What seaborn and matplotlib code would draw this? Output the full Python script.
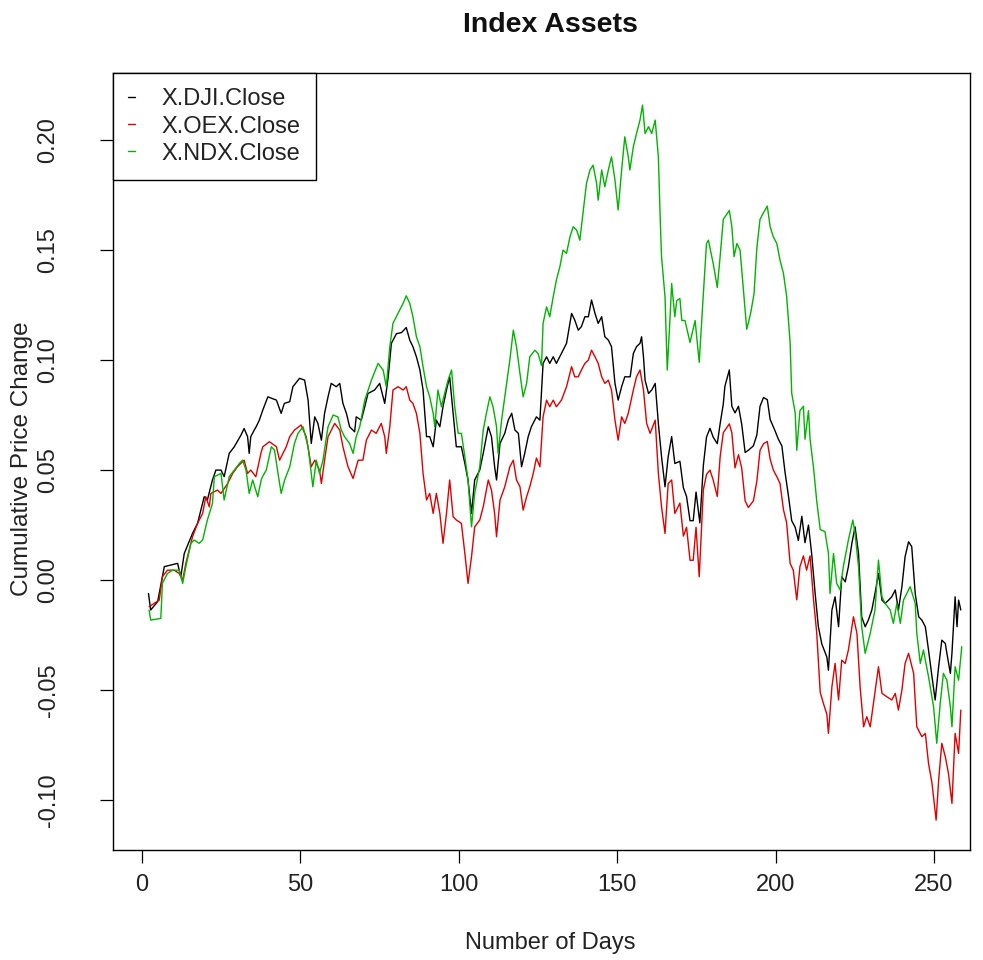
import matplotlib
matplotlib.use("Agg")
import matplotlib.pyplot as plt
import seaborn as sns
import pandas as pd
from matplotlib.lines import Line2D

sns.set_theme(style="white")
plt.rcParams['font.family'] = ['Liberation Sans', 'DejaVu Sans']

series_names = ["X.DJI.Close", "X.OEX.Close", "X.NDX.Close"]
series_colors = ["#000000", "#E00000", "#00B400"]

dji_days = [2.0, 2.7, 4.9, 6.4, 7.0, 11.2, 12.2, 13.3, 15.9, 17.5, 19.6, 20.6, 22.2, 23.3, 24.9, 25.9,
            27.5, 29.1, 31.2, 32.2, 33.3, 33.8, 34.3, 35.4, 36.0, 37.0, 38.1, 39.7, 42.4, 43.9, 44.9,
            46.6, 47.6, 49.7, 51.3, 52.4, 53.4, 54.5, 55.5, 56.6, 57.6, 58.7, 59.7, 61.3, 62.4, 63.4,
            64.5, 65.5, 67.1, 67.6, 69.2, 70.3, 71.3, 73.4, 75.0, 76.6, 77.7, 78.7, 80.3, 81.9, 83.4,
            84.5, 85.5, 86.6, 87.7, 88.7, 89.8, 90.8, 91.9, 92.9, 94.0, 95.0, 96.1, 97.1, 98.2, 99.2,
            100.8, 101.9, 102.9, 104.0, 105.0, 106.6, 107.7, 109.3, 110.3, 111.3, 111.9, 113.0, 114.5,
            115.6, 116.7, 117.7, 118.8, 119.8, 120.8, 121.9, 122.9, 124.5, 125.6, 126.6, 127.7, 128.7,
            129.8, 130.8, 132.4, 134.0, 135.6, 136.6, 137.7, 138.7, 139.8, 140.9, 141.9, 143.0, 144.0,
            145.1, 146.1, 147.2, 148.2, 149.3, 150.3, 151.4, 152.4, 154.1, 155.1, 156.1, 157.2, 157.7,
            158.3, 158.8, 159.9, 160.9, 162.0, 163.0, 164.0, 165.1, 166.1, 167.2, 168.2, 169.8, 170.9,
            171.9, 173.0, 174.0, 174.9, 176.1, 177.2, 178.2, 179.3, 180.3, 181.6, 182.5, 183.5, 184.0,
            185.4, 186.2, 187.2, 188.3, 189.3, 190.4, 191.4, 193.0, 194.1, 195.1, 196.2, 197.4, 198.3,
            199.8, 200.9, 202.0, 203.0, 204.1, 205.1, 206.2, 207.2, 208.3, 209.3, 210.4, 211.4, 212.5,
            213.5, 214.6, 216.2, 216.7, 217.8, 218.8, 219.9, 220.9, 222.0, 223.0, 224.1, 225.1, 226.2,
            227.2, 228.3, 229.3, 230.4, 231.4, 232.5, 233.6, 234.6, 235.7, 236.7, 237.8, 238.8, 239.9,
            240.9, 242.0, 243.0, 244.1, 245.2, 246.2, 247.3, 248.3, 249.4, 250.4, 251.5, 252.5, 253.6,
            254.1, 255.2, 255.7, 256.7, 257.3, 257.8, 258.5]
dji_vals = [-0.0061, -0.0136, -0.0098, 0.0015, 0.0061, 0.0076, 0.0015, 0.0121, 0.0212, 0.0258, 0.0379,
            0.0364, 0.0455, 0.0500, 0.0500, 0.0470, 0.0576, 0.0606, 0.0659, 0.0689, 0.0652, 0.0576,
            0.0652, 0.0682, 0.0697, 0.0727, 0.0773, 0.0833, 0.0818, 0.0758, 0.0803, 0.0811, 0.0879,
            0.0917, 0.0909, 0.0818, 0.0621, 0.0742, 0.0712, 0.0636, 0.0758, 0.0833, 0.0894, 0.0879,
            0.0894, 0.0803, 0.0758, 0.0697, 0.0674, 0.0742, 0.0727, 0.0788, 0.0848, 0.0864, 0.0894,
            0.0803, 0.0924, 0.1076, 0.1120, 0.1125, 0.1148, 0.1091, 0.1061, 0.1015, 0.0955, 0.0864,
            0.0652, 0.0652, 0.0606, 0.0727, 0.0697, 0.0788, 0.0864, 0.0924, 0.0758, 0.0606, 0.0606,
            0.0530, 0.0455, 0.0303, 0.0455, 0.0500, 0.0576, 0.0697, 0.0652, 0.0515, 0.0455, 0.0621,
            0.0667, 0.0727, 0.0758, 0.0682, 0.0667, 0.0515, 0.0576, 0.0652, 0.0697, 0.0742, 0.0727,
            0.0985, 0.1015, 0.0985, 0.1015, 0.0985, 0.1030, 0.1076, 0.1212, 0.1182, 0.1136, 0.1152,
            0.1197, 0.1197, 0.1273, 0.1212, 0.1167, 0.1197, 0.1106, 0.1091, 0.1061, 0.0894, 0.0818,
            0.0879, 0.0924, 0.0924, 0.1030, 0.1061, 0.1076, 0.1106, 0.1015, 0.0909, 0.0848, 0.0864,
            0.0894, 0.0712, 0.0561, 0.0424, 0.0561, 0.0652, 0.0530, 0.0540, 0.0420, 0.0380, 0.0270,
            0.0270, 0.0400, 0.0260, 0.0520, 0.0650, 0.0690, 0.0650, 0.0620, 0.0710, 0.0800, 0.0880,
            0.0955, 0.0790, 0.0760, 0.0790, 0.0710, 0.0580, 0.0590, 0.0610, 0.0660, 0.0790, 0.0830,
            0.0820, 0.0730, 0.0680, 0.0640, 0.0610, 0.0490, 0.0380, 0.0270, 0.0240, 0.0180, 0.0290,
            0.0170, 0.0250, 0.0120, -0.0060, -0.0210, -0.0290, -0.0350, -0.0410, -0.0136, -0.0076,
            -0.0212, 0.0015, -0.0008, 0.0061, 0.0167, 0.0242, 0.0121, -0.0167, -0.0212, -0.0182,
            -0.0136, -0.0061, 0.0030, -0.0091, -0.0106, -0.0091, -0.0076, -0.0045, -0.0136, -0.0030,
            0.0106, 0.0174, 0.0152, -0.0061, -0.0167, -0.0182, -0.0212, -0.0318, -0.0439, -0.0545,
            -0.0394, -0.0273, -0.0288, -0.0333, -0.0424, -0.0333, -0.0076, -0.0212, -0.0091, -0.0136]

oex_days = [2.2, 3.8, 5.4, 6.4, 8.0, 10.1, 11.7, 12.8, 13.8, 15.9, 17.5, 19.1, 20.1, 21.2, 21.7, 23.8,
            24.9, 27.0, 28.6, 30.1, 32.2, 33.3, 34.3, 35.9, 37.5, 38.1, 40.2, 42.4, 43.4, 45.5, 46.6,
            48.1, 50.2, 51.8, 53.4, 54.5, 56.0, 56.6, 57.6, 58.7, 60.8, 62.4, 63.4, 65.0, 66.6, 68.2,
            69.7, 70.8, 72.4, 73.9, 75.5, 76.6, 77.1, 78.2, 79.2, 80.8, 82.4, 83.4, 84.5, 85.5, 86.6,
            87.7, 88.7, 89.8, 90.8, 91.9, 92.9, 94.0, 95.0, 96.1, 97.1, 98.2, 99.2, 100.8, 101.9, 102.9,
            104.0, 105.0, 106.6, 107.7, 109.3, 110.3, 111.3, 111.9, 113.0, 114.5, 116.1, 117.2, 118.2,
            119.3, 120.3, 121.4, 122.4, 123.5, 124.5, 125.6, 126.6, 127.7, 128.7, 129.8, 130.8, 132.4,
            134.0, 135.6, 136.6, 137.7, 138.7, 139.8, 140.9, 141.9, 143.0, 144.0, 145.1, 146.1, 147.2,
            148.2, 149.3, 150.3, 151.4, 152.4, 153.5, 155.1, 156.1, 157.2, 158.3, 159.3, 160.4, 162.0,
            163.0, 164.0, 165.1, 166.1, 167.2, 168.2, 169.8, 170.9, 171.9, 173.0, 174.0, 174.9, 175.9,
            177.2, 178.2, 179.3, 180.3, 181.6, 182.5, 183.5, 185.4, 186.2, 187.2, 188.3, 189.3, 190.4,
            191.4, 193.0, 194.1, 195.1, 196.2, 197.4, 198.3, 199.3, 200.4, 201.4, 202.5, 203.5, 204.6,
            205.6, 206.7, 207.7, 208.8, 209.8, 210.9, 212.0, 213.0, 214.1, 215.1, 216.2, 216.7, 217.8,
            218.8, 219.9, 220.9, 222.0, 223.0, 224.6, 225.7, 226.7, 227.8, 228.8, 229.9, 230.9, 232.5,
            233.6, 235.1, 236.7, 237.8, 238.8, 239.9, 240.9, 242.0, 243.6, 244.6, 246.2, 247.3, 248.3,
            249.4, 250.7, 251.5, 252.5, 253.6, 254.6, 255.7, 256.7, 257.8, 258.5]
oex_vals = [-0.0121, -0.0106, -0.0091, 0.0015, 0.0045, 0.0045, 0.0030, 0.0000, 0.0076, 0.0197, 0.0258,
            0.0303, 0.0379, 0.0333, 0.0394, 0.0409, 0.0394, 0.0439, 0.0485, 0.0515, 0.0545, 0.0485,
            0.0500, 0.0470, 0.0576, 0.0606, 0.0629, 0.0606, 0.0545, 0.0606, 0.0652, 0.0682, 0.0705,
            0.0652, 0.0515, 0.0545, 0.0500, 0.0439, 0.0545, 0.0652, 0.0712, 0.0682, 0.0606, 0.0515,
            0.0462, 0.0545, 0.0545, 0.0636, 0.0682, 0.0667, 0.0712, 0.0652, 0.0576, 0.0697, 0.0864,
            0.0879, 0.0864, 0.0879, 0.0818, 0.0803, 0.0758, 0.0667, 0.0485, 0.0364, 0.0394, 0.0303,
            0.0394, 0.0303, 0.0167, 0.0303, 0.0455, 0.0288, 0.0273, 0.0258, 0.0121, -0.0015, 0.0106,
            0.0242, 0.0273, 0.0333, 0.0455, 0.0409, 0.0303, 0.0197, 0.0364, 0.0424, 0.0515, 0.0545,
            0.0455, 0.0424, 0.0318, 0.0379, 0.0424, 0.0485, 0.0555, 0.0515, 0.0742, 0.0818, 0.0788,
            0.0818, 0.0788, 0.0818, 0.0879, 0.0970, 0.0924, 0.0924, 0.0955, 0.0985, 0.1000, 0.1045,
            0.1015, 0.0985, 0.0924, 0.0894, 0.0909, 0.0864, 0.0727, 0.0636, 0.0742, 0.0712, 0.0758,
            0.0864, 0.0924, 0.0955, 0.0864, 0.0712, 0.0667, 0.0727, 0.0485, 0.0333, 0.0212, 0.0439,
            0.0455, 0.0303, 0.0350, 0.0200, 0.0240, 0.0090, 0.0090, 0.0240, 0.0015, 0.0410, 0.0480,
            0.0500, 0.0455, 0.0380, 0.0560, 0.0670, 0.0710, 0.0670, 0.0510, 0.0570, 0.0510, 0.0360,
            0.0330, 0.0360, 0.0450, 0.0590, 0.0620, 0.0630, 0.0550, 0.0500, 0.0470, 0.0440, 0.0320,
            0.0260, 0.0076, 0.0045, -0.0090, 0.0061, 0.0110, 0.0045, 0.0110, -0.0090, -0.0240, -0.0510,
            -0.0560, -0.0610, -0.0697, -0.0485, -0.0379, -0.0545, -0.0364, -0.0379, -0.0318, -0.0167,
            -0.0242, -0.0485, -0.0667, -0.0621, -0.0667, -0.0561, -0.0394, -0.0515, -0.0530, -0.0545,
            -0.0515, -0.0591, -0.0500, -0.0379, -0.0333, -0.0424, -0.0667, -0.0712, -0.0697, -0.0833,
            -0.0924, -0.1091, -0.0909, -0.0742, -0.0803, -0.0879, -0.1015, -0.0697, -0.0788, -0.0591]

ndx_days = [2.2, 2.7, 5.9, 6.4, 8.0, 9.6, 11.7, 12.8, 13.8, 15.4, 16.4, 18.0, 19.1, 20.6, 22.2, 22.8,
            24.9, 25.9, 27.5, 29.1, 30.7, 31.7, 32.8, 33.8, 34.9, 36.5, 37.6, 38.0, 39.2, 40.8, 41.8,
            42.9, 43.9, 45.0, 46.6, 48.1, 49.2, 50.8, 52.4, 53.9, 55.0, 56.0, 57.1, 58.7, 60.3, 61.8,
            62.9, 63.9, 65.5, 66.6, 67.6, 68.7, 70.3, 72.4, 74.5, 76.1, 77.1, 78.2, 79.2, 80.8, 82.4,
            83.4, 84.5, 85.5, 86.6, 87.7, 88.7, 89.8, 90.8, 91.9, 92.4, 93.4, 94.5, 95.5, 96.6, 97.7,
            98.7, 99.8, 100.8, 101.9, 102.9, 104.0, 105.0, 106.6, 107.7, 108.7, 109.8, 110.8, 111.9,
            112.4, 113.5, 114.5, 116.1, 117.2, 118.2, 119.3, 120.3, 121.4, 122.4, 124.0, 125.0, 126.1,
            126.6, 127.7, 128.7, 129.8, 130.8, 131.9, 132.9, 134.0, 135.1, 136.1, 137.2, 138.2, 139.3,
            140.3, 141.4, 142.4, 143.5, 144.0, 145.1, 146.1, 147.2, 148.2, 149.3, 150.3, 151.4, 152.4,
            153.5, 154.0, 155.1, 156.1, 157.2, 158.0, 158.8, 159.9, 160.9, 162.0, 163.0, 163.6, 164.0,
            165.1, 165.8, 166.6, 167.2, 168.2, 168.8, 169.8, 170.4, 171.4, 173.0, 174.6, 175.9, 177.2,
            178.2, 178.8, 180.3, 181.6, 182.5, 183.5, 185.4, 186.2, 186.9, 187.8, 188.8, 189.8, 190.9,
            192.1, 193.2, 194.1, 195.1, 196.2, 197.4, 198.3, 199.3, 200.4, 201.4, 202.5, 203.5, 204.6,
            205.1, 206.2, 206.7, 207.7, 208.8, 209.3, 210.4, 210.9, 212.0, 213.0, 214.1, 215.6, 216.7,
            217.2, 218.3, 219.3, 220.4, 221.4, 223.0, 224.4, 225.1, 226.2, 227.2, 228.3, 229.9, 231.4,
            232.5, 233.6, 234.6, 236.2, 237.2, 238.3, 239.4, 240.4, 242.5, 244.1, 244.6, 245.7, 246.7,
            248.3, 249.9, 250.9, 252.0, 253.0, 254.1, 255.2, 255.7, 256.7, 257.8, 258.8]
ndx_vals = [-0.0136, -0.0182, -0.0174, -0.0015, 0.0030, 0.0045, 0.0045, -0.0015, 0.0061, 0.0167, 0.0182,
            0.0167, 0.0182, 0.0273, 0.0348, 0.0470, 0.0485, 0.0364, 0.0470, 0.0500, 0.0530, 0.0545,
            0.0500, 0.0394, 0.0455, 0.0379, 0.0455, 0.0470, 0.0500, 0.0606, 0.0591, 0.0485, 0.0394,
            0.0455, 0.0515, 0.0621, 0.0667, 0.0697, 0.0606, 0.0424, 0.0545, 0.0485, 0.0545, 0.0697,
            0.0750, 0.0742, 0.0682, 0.0652, 0.0621, 0.0576, 0.0652, 0.0697, 0.0818, 0.0909, 0.0985,
            0.0955, 0.0879, 0.1061, 0.1167, 0.1212, 0.1258, 0.1292, 0.1258, 0.1197, 0.1106, 0.1061,
            0.0970, 0.0879, 0.0833, 0.0758, 0.0697, 0.0864, 0.0788, 0.0848, 0.0909, 0.0955, 0.0788,
            0.0667, 0.0667, 0.0561, 0.0455, 0.0242, 0.0394, 0.0515, 0.0682, 0.0758, 0.0833, 0.0788,
            0.0697, 0.0576, 0.0727, 0.0833, 0.1000, 0.1136, 0.1061, 0.0939, 0.0833, 0.0894, 0.1015,
            0.1045, 0.1030, 0.0975, 0.1167, 0.1242, 0.1197, 0.1288, 0.1364, 0.1424, 0.1500, 0.1485,
            0.1561, 0.1606, 0.1591, 0.1545, 0.1682, 0.1803, 0.1864, 0.1886, 0.1803, 0.1727, 0.1864,
            0.1788, 0.1864, 0.1924, 0.1818, 0.1682, 0.1864, 0.2015, 0.1924, 0.1864, 0.1970, 0.2030,
            0.2091, 0.2159, 0.2030, 0.2061, 0.2030, 0.2091, 0.1924, 0.1636, 0.1470, 0.1288, 0.0955,
            0.1167, 0.1348, 0.1197, 0.1270, 0.1280, 0.1180, 0.1180, 0.1080, 0.1180, 0.0990, 0.1300,
            0.1530, 0.1545, 0.1440, 0.1330, 0.1470, 0.1640, 0.1680, 0.1606, 0.1470, 0.1530, 0.1500,
            0.1330, 0.1140, 0.1210, 0.1300, 0.1510, 0.1640, 0.1670, 0.1700, 0.1606, 0.1560, 0.1530,
            0.1455, 0.1394, 0.1290, 0.1080, 0.0850, 0.0760, 0.0590, 0.0770, 0.0790, 0.0640, 0.0770,
            0.0640, 0.0510, 0.0360, 0.0230, 0.0220, 0.0121, -0.0061, 0.0121, -0.0015, -0.0045, 0.0061,
            0.0182, 0.0273, 0.0212, 0.0061, -0.0212, -0.0333, -0.0242, -0.0136, 0.0091, -0.0076,
            -0.0106, -0.0136, -0.0197, -0.0106, -0.0197, -0.0091, -0.0030, -0.0106, -0.0242, -0.0379,
            -0.0318, -0.0439, -0.0576, -0.0742, -0.0561, -0.0424, -0.0455, -0.0576, -0.0667, -0.0394,
            -0.0455, -0.0303]

x_ticks = [0, 50, 100, 150, 200, 250]
y_ticks = [-0.10, -0.05, 0.00, 0.05, 0.10, 0.15, 0.20]
y_tick_labels = ["-0.10", "-0.05", "0.00", "0.05", "0.10", "0.15", "0.20"]

frames = []
for name, d, v in zip(series_names, [dji_days, oex_days, ndx_days], [dji_vals, oex_vals, ndx_vals]):
    frames.append(pd.DataFrame({"day": d, "change": v, "series": name}))
df = pd.concat(frames, ignore_index=True)
palette = dict(zip(series_names, series_colors))

W, H = 983, 960
fig = plt.figure(figsize=(W / 100, H / 100), dpi=100)
fig.patch.set_facecolor("white")
L, R, T, B = 113, 970, 73, 850
ax = fig.add_axes([L / W, 1 - B / H, (R - L) / W, (B - T) / H])
ax.set_facecolor("white")

sns.lineplot(data=df, x="day", y="change", hue="series", hue_order=series_names,
             palette=palette, estimator=None, sort=False, legend=False,
             linewidth=1.0, ax=ax)

ax.set_xlim(-9.2, 261.4)
ax.set_ylim(-0.1227, 0.2305)
ax.set_xticks(x_ticks)
ax.set_xticklabels([str(t) for t in x_ticks])
ax.set_yticks(y_ticks)
ax.set_yticklabels(y_tick_labels, rotation=90, va="center")
ax.set_xlabel("")
ax.set_ylabel("")

for s in ax.spines.values():
    s.set_visible(True)
    s.set_color("black")
    s.set_linewidth(1.0)

ax.tick_params(axis="both", which="major", direction="out", length=9.5, width=0.9,
               color="black", labelcolor="#222222", labelsize=17, bottom=True, left=True)
ax.tick_params(axis="x", pad=8)
ax.tick_params(axis="y", pad=29)

handles = [Line2D([0], [0], color=c, lw=1.0) for c in series_colors]
leg = ax.legend(handles, series_names, loc="upper left", bbox_to_anchor=(0, 1),
                borderaxespad=0, frameon=True, fancybox=False, framealpha=1,
                edgecolor="black", fontsize=17, handlelength=0.3, handletextpad=1.1,
                labelspacing=0.22, borderpad=0.65)
leg.get_frame().set_linewidth(1.0)
for t in leg.get_texts():
    t.set_color("#222222")

cx = 550 / W
fig.text(cx, 1 - 25 / H, "Index Assets", ha="center", va="center",
         fontsize=20.5, fontweight="bold", color="#111111")
fig.text(cx, 1 - 943 / H, "Number of Days", ha="center", va="center",
         fontsize=17, color="#222222")
fig.text(22 / W, 1 - 459 / H, "Cumulative Price Change", ha="center", va="center",
         rotation=90, fontsize=17.5, color="#222222")

fig.savefig("out.png", dpi=100, facecolor="white")
